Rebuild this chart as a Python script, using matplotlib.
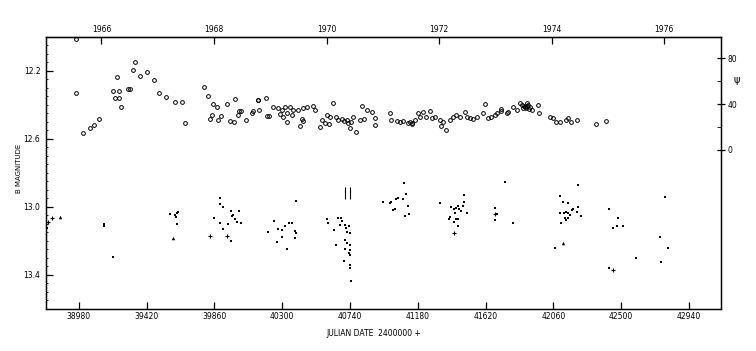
"""
B light curve with position angle above (scan of an old JD plot).
"""

import matplotlib
matplotlib.use('Agg')
import matplotlib.pyplot as plt
import numpy as np

# open circles, upper band (right axis units)
jd_open = [38960, 38960, 39008, 39051, 39079, 39110, 39229, 39203, 39242, 39214,
           39238, 39255, 39296, 39309, 39330, 39343, 39378, 39421, 39469, 39501,
           39547, 39605, 39647, 39670, 39793, 39819, 39852, 39874, 39843, 39830,
           39884, 39941, 39900, 39958, 39984, 39990, 40012, 40033, 40016, 40064,
           40105, 40140, 40144, 40192, 40107, 40148, 40202, 40215, 40241, 40273,
           40296, 40317, 40349, 40371, 40284, 40306, 40328, 40360, 40403, 40436,
           40458, 40501, 40514, 40328, 40425, 40436, 40414, 40630, 40588, 40609,
           40652, 40663, 40555, 40577, 40544, 40603, 40717, 40728, 40739, 40778,
           40756, 40804, 40832, 40815, 40847, 40880, 40901, 40901, 41000, 41009,
           41042, 41063, 41085, 41117, 41139, 41161, 41182, 41193, 41214, 41258,
           41236, 41269, 41290, 41323, 41344, 41366, 41333, 41388, 41409, 41431,
           41453, 41485, 41496, 41518, 41539, 41561, 41604, 41615, 41636, 41658,
           41680, 41691, 41723, 41756, 41723, 41766, 41799, 41824, 41842, 41853,
           41863, 41874, 41886, 41896, 41907, 41918, 41961, 41968, 42037, 42058,
           42080, 42102, 42145, 42156, 42177, 42210, 42335, 42400,
           40690, 40700, 40745, 41130, 41145, 41870, 41880, 41890, 41900]
psi_open = [96.5, 49.8, 14.8, 19.4, 22.0, 26.7, 63.7, 51.0, 51.0, 45.0,
            45.0, 37.1, 52.8, 52.8, 69.6, 76.3, 64.3, 68.1, 60.6, 49.8,
            46.1, 42.0, 42.0, 23.7, 54.8, 47.2, 39.7, 37.1, 30.4, 27.0,
            26.1, 39.7, 29.8, 25.5, 24.3, 44.3, 30.4, 33.9, 33.9, 25.8,
            32.4, 43.2, 43.5, 45.0, 34.2, 34.8, 29.8, 29.8, 37.1, 36.3,
            34.8, 37.1, 37.1, 34.8, 31.0, 29.0, 31.9, 30.4, 34.8, 36.3,
            37.7, 38.5, 34.8, 24.1, 27.0, 25.5, 21.1, 41.1, 30.4, 29.0,
            29.0, 26.1, 26.1, 23.2, 20.3, 22.6, 26.1, 23.2, 18.9, 15.9,
            29.0, 26.1, 27.0, 38.3, 34.8, 33.3, 27.6, 21.7, 31.9, 26.1,
            25.5, 24.6, 25.5, 23.7, 23.2, 26.1, 31.9, 29.0, 33.3, 34.2,
            29.0, 27.6, 28.4, 26.1, 24.6, 17.4, 20.9, 26.1, 29.0, 30.4,
            29.0, 33.3, 29.0, 27.6, 27.0, 28.4, 31.9, 40.0, 27.6, 29.0,
            30.4, 31.9, 34.2, 31.9, 35.4, 33.3, 37.1, 34.8, 40.6, 39.1,
            36.3, 37.7, 40.6, 39.1, 37.1, 34.8, 39.1, 32.4, 29.0, 27.6,
            24.6, 24.6, 26.1, 28.1, 24.6, 26.1, 22.6, 25.2,
            27.0, 25.0, 24.0, 24.0, 22.5, 38.5, 36.5, 38.0, 36.0]

# filled dots, lower band (B magnitude)
jd_dot = [38772, 39144, 39144, 39199, 39571, 39603, 39614, 39624, 39610, 39614,
          39854, 39893, 39895, 39913, 39895, 39913, 39964, 39945, 39966, 39977,
          39992, 40003, 40020, 40029, 39973, 40388, 40245, 40209, 40273, 40295,
          40317, 40345, 40360, 40382, 40386, 40299, 40263, 40332, 40382, 40591,
          40598, 40663, 40678, 40685, 40635, 40674, 40706, 40713, 40734, 40717,
          40739, 40652, 40706, 40717, 40739, 40706, 40739, 40734, 40739, 40702,
          40739, 40739, 40743, 40951, 41002, 41009, 41037, 41052, 41085, 41089,
          41102, 41117, 41020, 41035, 41096, 41122, 41327, 41398, 41414, 41431,
          41442, 41448, 41457, 41474, 41480, 41496, 41420, 41427, 41388, 41442,
          41381, 41414, 41442, 41480, 41680, 41691, 41680, 41745, 41795, 42102,
          42123, 42156, 42218, 42106, 42128, 42145, 42156, 42167, 42184, 42188,
          42210, 42218, 42242, 42134, 42145, 42156, 42108, 42069, 42422, 42480,
          42450, 42472, 42513, 42418, 42593, 42751, 42807, 42757, 42783]
mag_dot = [13.124, 13.100, 13.112, 13.292, 13.043, 13.047, 13.034, 13.028, 13.057, 13.102,
           13.063, 12.945, 12.984, 12.998, 13.092, 13.131, 13.200, 13.102, 13.024, 13.047,
           13.072, 13.086, 13.024, 13.096, 13.053, 12.963, 13.082, 13.145, 13.129, 13.135,
           13.112, 13.092, 13.092, 13.141, 13.155, 13.175, 13.204, 13.249, 13.184, 13.072,
           13.092, 13.063, 13.063, 13.081, 13.135, 13.106, 13.106, 13.125, 13.112, 13.145,
           13.151, 13.224, 13.194, 13.214, 13.224, 13.249, 13.253, 13.269, 13.282, 13.316,
           13.341, 13.361, 13.434, 12.969, 12.978, 12.969, 12.953, 12.949, 12.955, 12.861,
           12.924, 12.994, 13.018, 13.014, 13.053, 13.041, 12.975, 12.998, 13.014, 13.004,
           12.994, 13.014, 13.022, 12.994, 12.929, 13.037, 13.037, 13.072, 13.061, 13.072,
           13.072, 13.086, 13.112, 12.969, 13.004, 13.041, 13.076, 12.851, 13.096, 12.934,
           12.969, 12.978, 12.871, 13.034, 13.037, 13.028, 13.037, 13.047, 13.018, 13.014,
           13.028, 13.002, 13.051, 13.067, 13.076, 13.067, 13.092, 13.243, 13.014, 13.063,
           13.122, 13.112, 13.112, 13.357, 13.302, 13.175, 13.239, 13.322, 12.941]

# plus and triangle symbols
jd_plus = [38779, 38805, 39830, 39939, 41414, 41680, 42444]
mag_plus = [13.088, 13.065, 13.171, 13.171, 13.155, 13.041, 13.371]
jd_tri = [38857, 42123, 39588]
mag_tri = [13.059, 13.210, 13.184]

# two short vertical bars near 40740
jd_bar = [40706, 40739]
bar_lo = [12.885, 12.885]
bar_hi = [12.955, 12.955]

jd_ticks = [38980, 39420, 39860, 40300, 40740, 41180, 41620, 42060, 42500, 42940]
year_ticks = [1966, 1968, 1970, 1972, 1974, 1976]
mag_ticks = [12.2, 12.6, 13.0, 13.4]
psi_ticks = [0, 40, 80]

fig = plt.figure(figsize=(7.56, 3.51), dpi=100)
ax = fig.add_axes([0.0608, 0.1197, 0.8929, 0.7749])

ax.plot(jd_dot, mag_dot, 's', color='black', markersize=2.0, markeredgewidth=0)
ax.plot(jd_plus, mag_plus, '+', color='black', markersize=3.2, markeredgewidth=0.8)
ax.plot(jd_tri, mag_tri, '^', color='black', markersize=2.5, markeredgewidth=0)
ax.vlines(jd_bar, bar_lo, bar_hi, color='black', linewidth=0.8)

ax.set_xlim(38766, 43148)
ax.set_ylim(13.6, 12.0)
ax.set_xticks(jd_ticks)
ax.set_xticklabels([str(t) for t in jd_ticks])
ax.set_yticks(mag_ticks)
ax.set_yticklabels([f'{t:.1f}' for t in mag_ticks])
ax.set_yticks(np.arange(12.0, 13.61, 0.05), minor=True)
ax.tick_params(axis='both', direction='in', labelsize=5.5, length=5, width=0.9, pad=2)
ax.tick_params(axis='y', pad=4)
ax.tick_params(axis='y', which='minor', direction='in', length=1.5, width=0.6)
for s in ax.spines.values():
    s.set_linewidth(1.0)

# right axis
ax2 = ax.twinx()
ax2.plot(jd_open, psi_open, 'o', mfc='none', mec='black', markersize=2.7, markeredgewidth=0.7)
ax2.set_ylim(-138.3, 98.3)
ax2.set_yticks(psi_ticks)
ax2.set_yticks([20, 60], minor=True)
ax2.tick_params(axis='y', direction='inout', labelsize=5.5, length=6, width=0.9, pad=2)
ax2.tick_params(axis='y', which='minor', direction='in', length=3, width=0.6)

# top axis in years
def jd2yr(x):
    return 1966 + (np.asarray(x) - 39126.5) / 365.25

def yr2jd(y):
    return 39126.5 + (np.asarray(y) - 1966) * 365.25

top = ax.secondary_xaxis('top', functions=(jd2yr, yr2jd))
top.set_xticks(year_ticks)
top.tick_params(direction='in', labelsize=5.5, length=5, width=0.9, pad=2)

fig.text(0.025, 0.52, 'B MAGNITUDE', rotation=90, ha='center', va='center', fontsize=5)
fig.text(0.494, 0.051, 'JULIAN DATE  2400000 +', ha='center', va='center', fontsize=5.5)
fig.text(0.975, 0.772, 'ψ', ha='center', va='center', fontsize=7)

fig.savefig('out.png', dpi=100)
